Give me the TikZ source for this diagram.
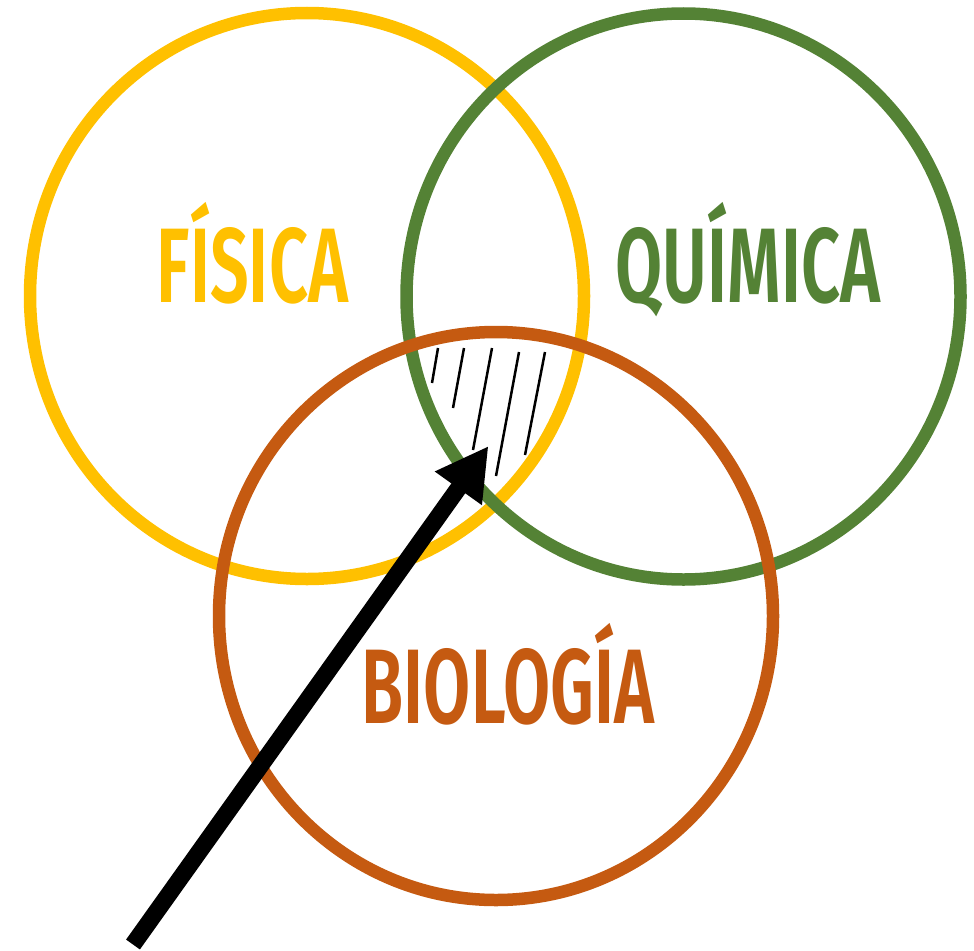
\documentclass[tikz,border=0pt]{standalone}
\usepackage{fontspec}
\newfontfamily\venfont[FakeStretch=0.645, UprightFont={* SemiBold}]{Fira Sans}
\usetikzlibrary{arrows.meta}
\usetikzlibrary{shapes}
\definecolor{fisicaC}{HTML}{FFC000}
\definecolor{quimicaC}{HTML}{548235}
\definecolor{biologiaC}{HTML}{C55A11}
\tikzset{
	aro/.style={line width=12.5pt},
	lbl/.style={anchor=base, inner sep=0pt, font=\venfont\fontsize{106}{106}\selectfont},
	raya/.style={line width=2.5pt},
}
\begin{document}
\begin{tikzpicture}[x=1pt,y=-1pt]
			\useasboundingbox (0,0) rectangle (974,950);
		%% centros de los circulos
			\coordinate (fis) at (307,296);
			\coordinate (qui) at (683.5,296.5);
			\coordinate (bio) at (496,616);
			\draw[aro, fisicaC] (fis) ellipse [x radius=277pt, y radius=283pt];
			\draw[aro, quimicaC] (qui) ellipse [x radius=277pt, y radius=283pt];
			\draw[aro, biologiaC] (bio) ellipse [x radius=277pt, y radius=284pt];
		%% zona rayada
			\draw[raya] (438,348) -- (432,383);
			\draw[raya] (464,348) -- (453,408);
			\draw[raya] (492,348) -- (473,450);
			\draw[raya] (519,352) -- (496,476);
			\draw[raya] (545,352) -- (525,455);
		%% etiquetas
			\node[lbl, fisicaC] (fisica) at (252.5,302) {FÍSICA};
			\node[lbl, quimicaC] (quimica) at (748,302) {QUÍMICA};
			\node[lbl, biologiaC] (biologia) at (508,723.5) {BIOLOGÍA};
		%% flecha
			\coordinate (cola) at (133,944.5);
			\coordinate (punta) at (488.5,446);
			\draw[line width=17pt, -{Triangle[length=52pt,width=54pt]}] (cola) -- (punta);
\end{tikzpicture}
\end{document}
